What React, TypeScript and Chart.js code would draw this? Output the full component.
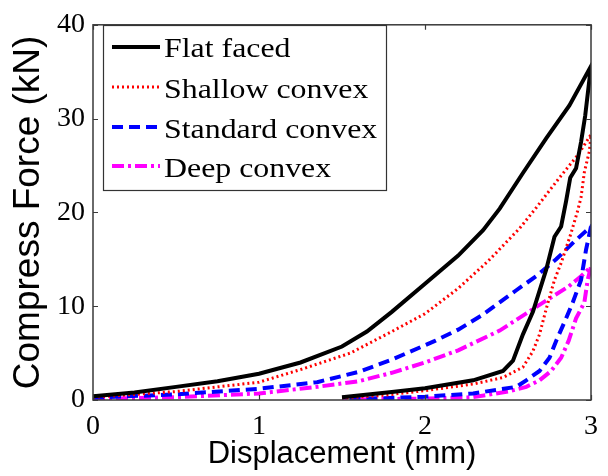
import React, { useEffect, useRef } from "react";
import { Chart, registerables } from "chart.js";

Chart.register(...registerables);

// ---- data ----
const seriesNames = ["Flat faced", "Shallow convex", "Standard convex", "Deep convex"];
const seriesColors = ["#000000", "#ff0000", "#0000ff", "#ff00ff"];

const flatLoadX = [0, 0.25, 0.5, 0.75, 1.0, 1.25, 1.5, 1.65, 1.8, 2.0, 2.2, 2.35, 2.45, 2.59, 2.73, 2.87, 3.0];
const flatLoadY = [0.4, 0.8, 1.4, 2.0, 2.8, 4.0, 5.7, 7.3, 9.4, 12.4, 15.4, 18.1, 20.4, 24.2, 27.9, 31.4, 35.6];
const flatUnloadX = [2.965, 2.94, 2.91, 2.875, 2.85, 2.82, 2.78, 2.73, 2.65, 2.59, 2.53, 2.47, 2.29, 2.0, 1.8, 1.5];
const flatUnloadY = [30.3, 27.5, 24.7, 23.7, 21.2, 18.5, 17.4, 13.9, 9.4, 7.0, 4.2, 3.1, 2.1, 1.25, 0.85, 0.3];

const shallowLoadX = [0, 0.5, 1.0, 1.26, 1.55, 1.8, 2.0, 2.2, 2.38, 2.57, 2.67, 2.81, 2.92, 3.0];
const shallowLoadY = [0.3, 0.9, 1.9, 3.3, 5.0, 7.3, 9.2, 11.9, 14.8, 18.3, 20.5, 23.7, 26.1, 28.3];
const shallowUnloadX = [2.99, 2.96, 2.94, 2.92, 2.88, 2.82, 2.78, 2.73, 2.69, 2.65, 2.59, 2.47, 2.29, 2.0, 1.75, 1.5];
const shallowUnloadY = [26.5, 24.3, 21.6, 20.2, 17.8, 14.6, 12.8, 9.7, 7.0, 5.2, 3.5, 2.4, 1.7, 1.0, 0.5, 0.2];

const standardLoadX = [0, 0.5, 1.0, 1.35, 1.6, 1.8, 2.06, 2.2, 2.34, 2.55, 2.67, 2.79, 2.9, 3.0];
const standardLoadY = [0.25, 0.6, 1.2, 1.9, 3.0, 4.3, 6.3, 7.5, 9.0, 11.7, 13.2, 15.0, 16.9, 18.5];
const standardUnloadX = [2.97, 2.94, 2.89, 2.85, 2.79, 2.75, 2.69, 2.61, 2.55, 2.29, 2.0, 1.75, 1.5];
const standardUnloadY = [16.0, 12.8, 10.4, 8.7, 6.3, 4.5, 3.1, 2.1, 1.4, 0.7, 0.35, 0.2, 0.1];

const deepLoadX = [0, 0.5, 1.0, 1.35, 1.6, 1.8, 2.0, 2.2, 2.45, 2.59, 2.73, 2.865, 2.94, 3.0];
const deepLoadY = [0.1, 0.3, 0.7, 1.4, 2.0, 2.9, 4.0, 5.3, 7.4, 9.0, 10.6, 12.1, 13.2, 14.2];
const deepUnloadX = [2.98, 2.96, 2.91, 2.865, 2.82, 2.76, 2.69, 2.61, 2.5, 2.29, 2.0, 1.75, 1.5];
const deepUnloadY = [12.8, 10.4, 8.7, 6.3, 4.5, 3.1, 2.1, 1.4, 0.9, 0.3, 0.15, 0.1, 0.05];

const xTicks = [0, 1, 2, 3];
const yTicks = [0, 10, 20, 30, 40];
const xTitle = "Displacement (mm)";
const yTitle = "Compress Force (kN)";

// ---- styles ----
const seriesWidths = [4, 3, 4, 4];
const seriesDashes: number[][] = [[], [2, 3], [11, 6], [12, 4, 3, 4]];

function toPoints(xs: number[], ys: number[]) {
  return xs.map((x, i) => ({ x, y: ys[i] }));
}

const loops = [
  [flatLoadX, flatLoadY, flatUnloadX, flatUnloadY],
  [shallowLoadX, shallowLoadY, shallowUnloadX, shallowUnloadY],
  [standardLoadX, standardLoadY, standardUnloadX, standardUnloadY],
  [deepLoadX, deepLoadY, deepUnloadX, deepUnloadY],
];

const framePlugin = {
  id: "matlabFrame",
  afterDatasetsDraw(chart: any) {
    const { ctx, chartArea, scales } = chart;
    const { left, right, top, bottom } = chartArea;
    const xs = scales.x;
    const ys = scales.y;
    ctx.save();
    ctx.strokeStyle = "#3a3a3a";
    ctx.lineWidth = 1.5;
    ctx.setLineDash([]);
    ctx.strokeRect(left, top, right - left, bottom - top);
    ctx.lineWidth = 1.2;
    const tl = 5;
    ctx.beginPath();
    xTicks.forEach((v) => {
      const px = Math.round(xs.getPixelForValue(v)) + 0.5;
      ctx.moveTo(px, bottom);
      ctx.lineTo(px, bottom - tl);
      ctx.moveTo(px, top);
      ctx.lineTo(px, top + tl);
    });
    yTicks.forEach((v) => {
      const py = Math.round(ys.getPixelForValue(v)) + 0.5;
      ctx.moveTo(left, py);
      ctx.lineTo(left + tl, py);
      ctx.moveTo(right, py);
      ctx.lineTo(right - tl, py);
    });
    ctx.stroke();
    ctx.restore();
  },
};

const legendPlugin = {
  id: "boxLegend",
  afterDraw(chart: any) {
    const { ctx } = chart;
    const bx = 103, by = 25, bw = 283, bh = 165;
    ctx.save();
    ctx.fillStyle = "#ffffff";
    ctx.fillRect(bx, by, bw, bh);
    ctx.strokeStyle = "#333333";
    ctx.lineWidth = 1.2;
    ctx.setLineDash([]);
    ctx.strokeRect(bx + 0.5, by + 0.5, bw, bh);
    const lineYs = [47, 87, 127, 166];
    const baseYs = [57, 98, 138, 177];
    seriesNames.forEach((name, i) => {
      ctx.strokeStyle = seriesColors[i];
      ctx.lineWidth = seriesWidths[i];
      ctx.setLineDash(seriesDashes[i]);
      ctx.beginPath();
      ctx.moveTo(112, lineYs[i]);
      ctx.lineTo(160, lineYs[i]);
      ctx.stroke();
      ctx.setLineDash([]);
      ctx.save();
      ctx.translate(164, baseYs[i]);
      ctx.scale(1.18, 1);
      ctx.fillStyle = "#000000";
      ctx.font = "27px 'Liberation Serif', 'Times New Roman', serif";
      ctx.textBaseline = "alphabetic";
      ctx.textAlign = "left";
      ctx.fillText(name, 0, 0);
      ctx.restore();
    });
    ctx.restore();
  },
};

export default function App() {
  const ref = useRef<HTMLCanvasElement | null>(null);

  useEffect(() => {
    document.body.style.margin = "0";
    const canvas = ref.current;
    if (!canvas) return;
    const datasets = loops.map((l, i) => ({
      label: seriesNames[i],
      data: [...toPoints(l[0], l[1]), ...toPoints(l[2], l[3])],
      borderColor: seriesColors[i],
      backgroundColor: seriesColors[i],
      borderWidth: seriesWidths[i],
      borderDash: seriesDashes[i],
      pointRadius: 0,
      tension: 0,
      fill: false,
    }));
    const chart = new Chart(canvas, {
      type: "line",
      data: { datasets },
      options: {
        animation: false,
        responsive: false,
        maintainAspectRatio: false,
        parsing: true,
        layout: { padding: { top: 17, right: 5, left: 0, bottom: 0 } },
        plugins: { legend: { display: false }, tooltip: { enabled: false } },
        scales: {
          x: {
            type: "linear",
            min: 0,
            max: 3,
            afterBuildTicks: (s: any) => {
              s.ticks = xTicks.map((v) => ({ value: v }));
            },
            afterFit: (s: any) => {
              s.height = 76;
            },
            grid: { display: false, drawTicks: false },
            border: { display: false },
            ticks: {
              color: "#000",
              padding: 10,
              maxRotation: 0,
              font: { family: "'Liberation Serif', 'Times New Roman', serif", size: 28 },
            },
            title: {
              display: true,
              text: xTitle,
              color: "#000",
              padding: { top: 0, bottom: 6.5 },
              font: { family: "'Liberation Sans', Arial, sans-serif", size: 31, lineHeight: 1 },
            },
          },
          y: {
            type: "linear",
            min: 0,
            max: 40,
            afterBuildTicks: (s: any) => {
              s.ticks = yTicks.map((v) => ({ value: v }));
            },
            afterFit: (s: any) => {
              s.width = 93;
            },
            grid: { display: false, drawTicks: false },
            border: { display: false },
            ticks: {
              color: "#000",
              padding: 8,
              font: { family: "'Liberation Serif', 'Times New Roman', serif", size: 28 },
            },
            title: {
              display: true,
              text: yTitle,
              color: "#000",
              padding: { top: 10, bottom: 0 },
              font: { family: "'Liberation Sans', Arial, sans-serif", size: 37, lineHeight: 1 },
            },
          },
        },
      },
      plugins: [framePlugin, legendPlugin],
    } as any);
    return () => chart.destroy();
  }, []);

  return <canvas ref={ref} width={608} height={476} style={{ display: "block" }} />;
}
